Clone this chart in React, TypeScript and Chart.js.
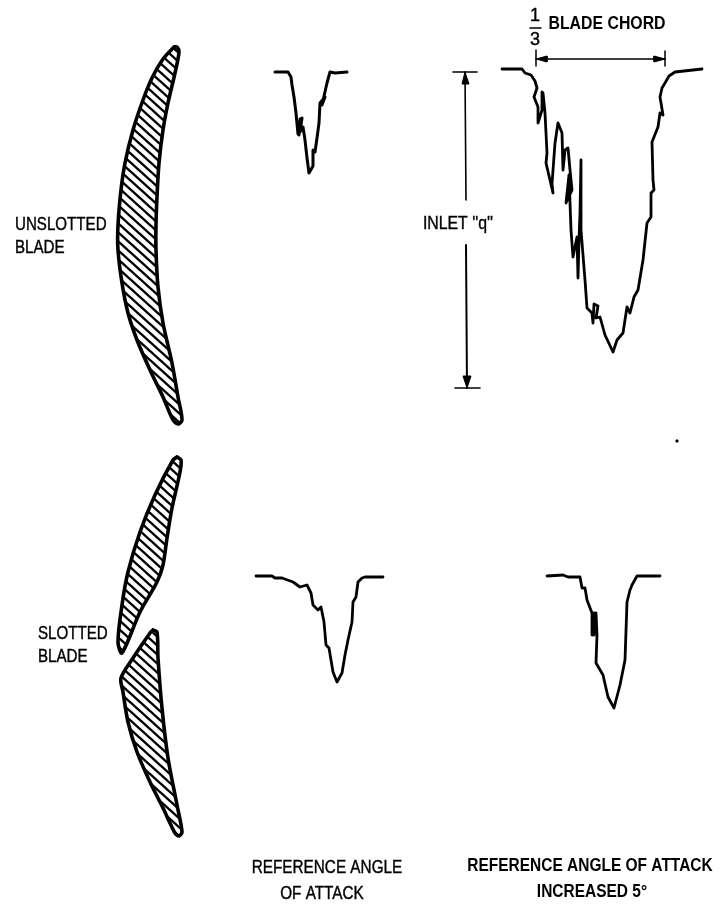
import React, { useEffect, useRef } from "react";
import { Chart, registerables } from "chart.js";

Chart.register(...registerables);

type P = [number, number];

const bladeUnslotted: P[] = [[174,47],[177,47],[179,52],[175,73],[168,103],[163,130],[159,163],[157,197],[156,225],[156,250],[158,287],[163,323],[172,363],[178,397],[182,420],[178,424],[173,420],[163,397],[150,370],[137,340],[128,313],[122,283],[118,250],[118,225],[121,190],[125,163],[133,130],[143,100],[152,78],[163,59],[174,47]];
const bladeSlottedUpper: P[] = [[177,457],[181,460],[180,472],[172,508],[167,538],[163,565],[157,582],[140,612],[122,653],[118,642],[122,605],[128,572],[140,532],[155,495],[173,460],[177,457]];
const bladeSlottedLower: P[] = [[153,630],[157,632],[158,658],[162,708],[168,758],[177,805],[182,832],[179,836],[175,833],[163,808],[150,782],[137,752],[128,722],[123,692],[121,678],[133,658],[150,633],[153,630]];

const traceUnslottedRef: P[] = [[275,72],[288,72],[291,77],[292,85],[294,97],[296,113],[298,134],[299,135],[300,119],[302,118],[300,132],[303,127],[305,140],[307,158],[309,173],[313,166],[313,150],[315,152],[317,138],[319,123],[320,103],[325,97],[322,105],[327,83],[330,72],[335,73],[347,72]];
const traceUnslottedPlus5: P[] = [[502,69],[522,69],[525,73],[531,75],[535,81],[537,88],[534,97],[538,107],[538,123],[542,110],[542,92],[543,93],[545,113],[547,153],[546,163],[550,180],[553,193],[552,184],[555,143],[558,123],[562,133],[563,170],[565,150],[568,148],[570,170],[572,190],[566,203],[569,175],[571,230],[573,257],[577,237],[578,278],[579,240],[580,213],[581,160],[581,230],[585,280],[587,308],[592,313],[593,323],[594,304],[598,306],[596,318],[600,317],[605,335],[613,352],[617,340],[623,333],[627,307],[630,313],[634,297],[638,290],[643,260],[647,223],[651,217],[651,193],[654,190],[653,180],[652,142],[658,127],[660,113],[663,115],[660,97],[662,88],[665,83],[669,76],[675,72],[702,69]];
const traceSlottedRef: P[] = [[256,576],[272,576],[275,578],[282,578],[293,582],[300,587],[307,585],[311,593],[313,605],[318,610],[321,607],[324,622],[326,645],[329,648],[333,672],[337,682],[342,673],[345,655],[348,640],[352,622],[353,602],[356,597],[358,582],[362,578],[365,577],[383,577]];
const traceSlottedPlus5: P[] = [[547,576],[563,575],[568,577],[580,577],[582,588],[585,588],[587,600],[592,613],[592,635],[594,613],[594,635],[596,613],[597,635],[596,663],[603,675],[608,697],[614,708],[620,685],[625,660],[627,602],[630,590],[632,585],[637,576],[660,576]];

const chordLine: P[] = [[536,59],[665,59]];
const chordTickLeft: P[] = [[536,50],[536,66]];
const chordTickRight: P[] = [[665,51],[665,66]];
const chordHeadLeft: P[] = [[536,59],[547,56],[547,62],[536,59]];
const chordHeadRight: P[] = [[665,59],[654,56],[654,62],[665,59]];
const inletUpper: P[] = [[465,72],[466,200]];
const inletLower: P[] = [[466,245],[467,388]];
const inletTickTop: P[] = [[453,72],[477,72]];
const inletTickBottom: P[] = [[455,388],[480,388]];
const inletHeadTop: P[] = [[465,72],[462,84],[469,84],[465,72]];
const inletHeadBottom: P[] = [[467,388],[463,376],[471,376],[467,388]];
const fractionBar: P[] = [[530,28],[541,28]];
const speck: P[] = [[677,441]];

const labelTexts = ["UNSLOTTED","BLADE","SLOTTED","BLADE","INLET ''q''","BLADE CHORD","1","3","REFERENCE ANGLE","OF ATTACK","REFERENCE ANGLE OF ATTACK","INCREASED 5°"];
const labelX = [15,15,38,38,458,607,535,535,327,322,590,592];
const labelY = [225,248,634,657,224,24,16,40,868,894,866,892];
const labelHeavy = [false,false,false,false,false,true,false,false,false,false,true,true];
const labelSquash = [0.84,0.84,0.84,0.84,0.88,0.88,1,1,0.85,0.85,0.86,0.86];

const toXY = (pts: P[]) => pts.map(([x, y]) => ({ x, y }));

function hatchPattern(): CanvasPattern | string {
  const tile = document.createElement("canvas");
  tile.width = 10;
  tile.height = 9;
  const c = tile.getContext("2d")!;
  c.fillStyle = "#fff";
  c.fillRect(0, 0, 10, 9);
  c.strokeStyle = "#000";
  c.lineWidth = 2.4;
  for (const dx of [-10, 0, 10]) {
    c.beginPath();
    c.moveTo(-10 + dx, -9);
    c.lineTo(20 + dx, 18);
    c.stroke();
  }
  return c.createPattern(tile, "repeat") || "#888";
}

const textPlugin = {
  id: "diagramText",
  afterDatasetsDraw(chart: any) {
    const { ctx, scales } = chart;
    ctx.fillStyle = "#000";
    ctx.strokeStyle = "#000";
    ctx.textBaseline = "middle";
    labelTexts.forEach((t, i) => {
      ctx.save();
      ctx.font = `${labelHeavy[i] ? "bold " : ""}18px "Liberation Sans", sans-serif`;
      ctx.textAlign = i < 4 ? "left" : "center";
      ctx.translate(scales.x.getPixelForValue(labelX[i]), scales.y.getPixelForValue(labelY[i]));
      ctx.scale(labelSquash[i], 1);
      ctx.fillText(t, 0, 0);
      if (!labelHeavy[i]) {
        ctx.lineWidth = 0.4;
        ctx.strokeText(t, 0, 0);
      }
      ctx.restore();
    });
  },
};

export default function App() {
  const ref = useRef<HTMLCanvasElement>(null);
  useEffect(() => {
    const hatch = hatchPattern();
    const stroke = (pts: P[], width: number) => ({
      data: toXY(pts),
      showLine: true,
      borderColor: "#000",
      borderWidth: width,
      pointRadius: 0,
      tension: 0,
      fill: false,
      borderJoinStyle: "round" as const,
      borderCapStyle: "round" as const,
    });
    const blade = (pts: P[]) => ({
      ...stroke(pts, 3.6),
      fill: "shape",
      backgroundColor: hatch,
      tension: 0.3,
    });
    const head = (pts: P[]) => ({
      ...stroke(pts, 1),
      fill: "shape",
      backgroundColor: "#000",
    });
    const chart = new Chart(ref.current!, {
      type: "scatter",
      data: {
        datasets: [
          blade(bladeUnslotted),
          blade(bladeSlottedUpper),
          blade(bladeSlottedLower),
          stroke(traceUnslottedRef, 3),
          stroke(traceUnslottedPlus5, 2.8),
          stroke(traceSlottedRef, 2.8),
          stroke(traceSlottedPlus5, 2.8),
          stroke(chordLine, 1.6),
          stroke(chordTickLeft, 1.5),
          stroke(chordTickRight, 1.5),
          head(chordHeadLeft),
          head(chordHeadRight),
          stroke(inletUpper, 1.6),
          stroke(inletLower, 2),
          stroke(inletTickTop, 1.6),
          stroke(inletTickBottom, 1.6),
          head(inletHeadTop),
          head(inletHeadBottom),
          stroke(fractionBar, 1.5),
          { ...stroke(speck, 1), pointRadius: 1.2, pointBackgroundColor: "#000" },
        ] as any,
      },
      options: {
        animation: false,
        responsive: false,
        maintainAspectRatio: false,
        layout: { padding: 0, autoPadding: false },
        plugins: { legend: { display: false }, tooltip: { enabled: false } },
        scales: {
          x: { type: "linear", min: 0, max: 722, display: false },
          y: { type: "linear", min: 0, max: 908, reverse: true, display: false },
        },
      },
      plugins: [textPlugin],
    });
    return () => chart.destroy();
  }, []);
  return (
    <div style={{ position: "absolute", left: 0, top: 0, width: 722, height: 908, background: "#fff" }}>
      <canvas ref={ref} width={722} height={908} style={{ display: "block" }} />
    </div>
  );
}
